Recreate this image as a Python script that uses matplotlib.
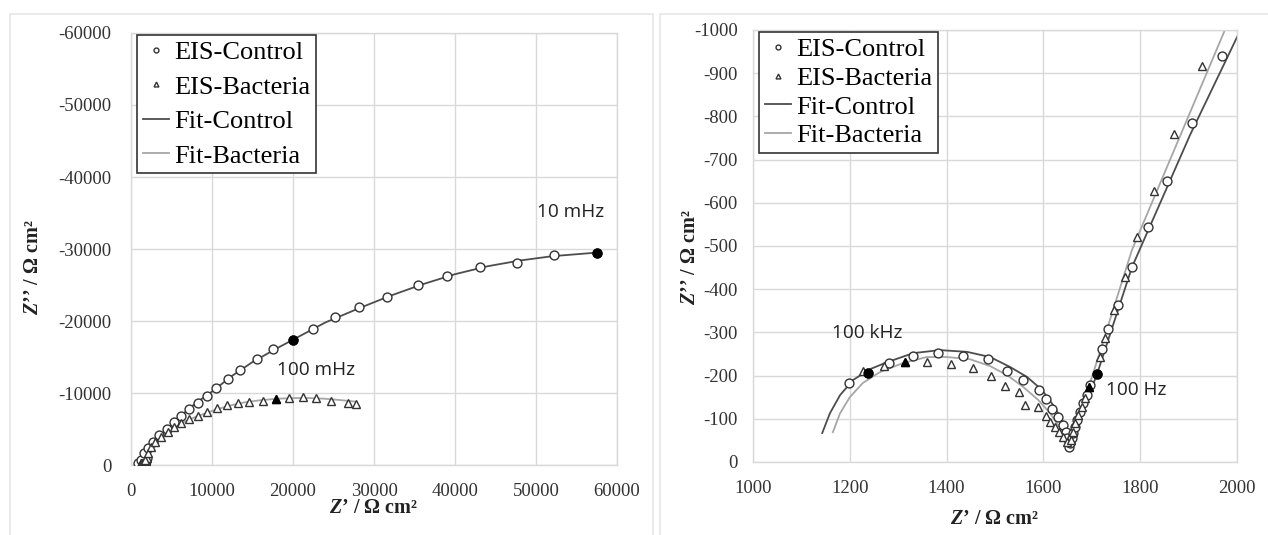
"""Nyquist plots of EIS data (control vs bacteria) with equivalent-circuit fits."""

import matplotlib

matplotlib.use("Agg")
import matplotlib.pyplot as plt
from matplotlib.patches import Rectangle

# ---- full-range spectrum (left panel), Z' and Z'' in ohm cm2 ----
ctrl_lf_x = [4430, 5300, 6160, 7150, 8250, 9360, 10470, 11950, 13430, 15520, 17490, 19960,
             22420, 25130, 28090, 31660, 35480, 39050, 43120, 47680, 52240, 57530]
ctrl_lf_y = [-5000, -5970, -6810, -7780, -8610, -9580, -10700, -11950, -13200, -14720, -16110, -17360,
             -18890, -20560, -21950, -23340, -25000, -26250, -27500, -28060, -29170, -29450]
ctrl_mid_x = [860, 1230, 1600, 2090, 2710, 3450]
ctrl_mid_y = [-280, -700, -1670, -2360, -3190, -4170]

bact_lf_x = [1720, 2090, 2460, 2960, 3700, 4560, 5300, 6160, 7150, 8250, 9360, 10600, 11830,
             13180, 14540, 16260, 17860, 19470, 21190, 22790, 24640, 26730, 27720]
bact_lf_y = [-700, -1670, -2500, -3190, -3890, -4580, -5280, -5830, -6390, -6810, -7360, -7920, -8330,
             -8610, -8750, -8890, -9170, -9310, -9450, -9310, -8890, -8610, -8470]

fit_ctrl_lf_x = [850, 1200, 1600, 2100, 2800, 3600, 4500, 6000, 8000, 10000, 12500, 15000, 18000,
                 21000, 24000, 28000, 32000, 36000, 40000, 44000, 48000, 52000, 57500]
fit_ctrl_lf_y = [0, -700, -1600, -2400, -3300, -4200, -5100, -6700, -8600, -10200, -12400, -14300, -16200,
                 -18000, -19800, -21700, -23500, -25100, -26500, -27600, -28400, -29000, -29500]
fit_bact_lf_x = [1500, 1700, 2000, 2500, 3000, 3800, 4700, 5600, 6600, 7800, 9000, 10500, 12000,
                 14000, 16000, 18000, 20000, 22000, 24000, 26000, 27700]
fit_bact_lf_y = [0, -700, -1500, -2400, -3100, -3900, -4700, -5400, -6000, -6600, -7100, -7700, -8200,
                 -8700, -9000, -9200, -9300, -9300, -9200, -9000, -8800]

# ---- high-frequency zoom (right panel) ----
ctrl_hf_x = [1198, 1238, 1281, 1331, 1382, 1434, 1486, 1525, 1558, 1591, 1605, 1618, 1630, 1641,
             1647, 1649, 1653, 1655, 1659, 1661, 1665, 1669, 1676, 1682, 1690, 1696, 1711, 1721,
             1733, 1754, 1783, 1816, 1855, 1907, 1969]
ctrl_hf_y = [-183, -206, -229, -245, -252, -245, -238, -211, -190, -167, -146, -123, -104, -86,
             -69, -56, -35, -44, -56, -67, -81, -97, -116, -137, -155, -178, -204, -262,
             -308, -363, -451, -544, -651, -785, -940]
bact_hf_x = [1227, 1271, 1314, 1359, 1409, 1455, 1492, 1521, 1550, 1562, 1589, 1605, 1614, 1624,
             1632, 1641, 1649, 1657, 1661, 1665, 1671, 1680, 1686, 1694, 1717, 1727, 1746, 1769,
             1793, 1829, 1870, 1928]
bact_hf_y = [-211, -222, -232, -232, -227, -218, -199, -176, -162, -132, -127, -106, -93, -81,
             -69, -58, -46, -51, -69, -90, -109, -127, -148, -174, -243, -287, -352, -428,
             -521, -627, -759, -917]

fit_ctrl_hf_x = [1143, 1159, 1180, 1207, 1242, 1277, 1331, 1386, 1442, 1490, 1531, 1566, 1597,
                 1620, 1639, 1649, 1653, 1711, 1783, 1903, 2002]
fit_ctrl_hf_y = [-67, -113, -155, -190, -215, -231, -252, -259, -255, -243, -220, -197, -167,
                 -132, -97, -67, -35, -204, -451, -757, -988]
fit_bact_hf_x = [1165, 1180, 1200, 1227, 1262, 1310, 1359, 1401, 1448, 1490, 1525, 1558, 1589,
                 1614, 1634, 1647, 1651, 1694, 1783, 1975]
fit_bact_hf_y = [-69, -113, -150, -183, -208, -229, -243, -243, -238, -222, -201, -174, -144,
                 -113, -79, -51, -35, -174, -491, -1000]

# frequency markers (filled symbols) and their labels
ctrl_mark_lf = ([19960, 57530], [-17360, -29450])
bact_mark_lf = ([17860], [-9170])
ctrl_mark_hf = ([1238, 1711], [-206, -204])
bact_mark_hf = ([1314, 1694], [-232, -174])
labels_lf = [("10 mHz", 54300, -35100), ("100 mHz", 22800, -13200)]
labels_hf = [("100 kHz", 1235, -299), ("100 Hz", 1791, -167)]

left_xticks = [0, 10000, 20000, 30000, 40000, 50000, 60000]
left_yticks = [0, -10000, -20000, -30000, -40000, -50000, -60000]
right_xticks = [1000, 1200, 1400, 1600, 1800, 2000]
right_yticks = list(range(0, -1001, -100))

SERIF = "Liberation Serif"
GRID = "#d9d9d9"
CTRL_FIT = "#4d4d4d"
BACT_FIT = "#a6a6a6"
EDGE = "#333333"

plt.rcParams["axes.unicode_minus"] = False
plt.rcParams["mathtext.fontset"] = "custom"
plt.rcParams["mathtext.it"] = "Liberation Serif:italic:bold"
plt.rcParams["mathtext.rm"] = "Liberation Serif:bold"


def draw_panel(ax, data, fits, marks, labels, xlim, ylim, xticks, yticks, row_gap):
    (cx, cy), (bx, by) = data
    (fcx, fcy), (fbx, fby) = fits
    ax.plot(fcx, fcy, color=CTRL_FIT, lw=1.3, zorder=2, label="Fit-Control")
    ax.plot(fbx, fby, color=BACT_FIT, lw=1.3, zorder=2, label="Fit-Bacteria")
    ax.plot(cx, cy, ls="none", marker="o", ms=6.4, mfc="white", mec=EDGE, mew=1.0, zorder=3,
            label="EIS-Control")
    ax.plot(bx, by, ls="none", marker="^", ms=6.4, mfc="white", mec=EDGE, mew=1.0, zorder=3,
            label="EIS-Bacteria")
    (mcx, mcy), (mbx, mby) = marks
    ax.plot(mcx, mcy, ls="none", marker="o", ms=6.4, color="black", zorder=4)
    ax.plot(mbx, mby, ls="none", marker="^", ms=6.4, color="black", zorder=4)
    for text, x, y in labels:
        ax.text(x, y, text, ha="center", va="center", fontsize=13.7, family="Open Sans",
                color="#222222")

    ax.set_xlim(*xlim)
    ax.set_ylim(*ylim)
    ax.set_xticks(xticks)
    ax.set_yticks(yticks)
    ax.grid(True, color=GRID, lw=1.0)
    ax.set_axisbelow(True)
    for spine in ax.spines.values():
        spine.set_color(GRID)
        spine.set_linewidth(1.0)
    ax.tick_params(length=0, labelsize=13.5, colors="#333333")
    for lab in ax.get_xticklabels() + ax.get_yticklabels():
        lab.set_family(SERIF)

    handles, names = ax.get_legend_handles_labels()
    order = [2, 3, 0, 1]
    leg = ax.legend([handles[i] for i in order], [names[i] for i in order],
                    loc="upper left", bbox_to_anchor=(0.012, 0.996), prop={"family": SERIF, "size": 19},
                    frameon=True, fancybox=False, edgecolor="#333333", framealpha=1,
                    handlelength=1.0, handletextpad=0.2, borderpad=0.22, labelspacing=row_gap,
                    markerscale=0.55, borderaxespad=0)
    leg.get_frame().set_linewidth(1.2)


def main() -> None:
    fig = plt.figure(figsize=(12.68, 5.35), dpi=100)

    # light panel frames
    fig.add_artist(Rectangle((10 / 1268, -0.05), 643 / 1268, 1.05 - 14 / 535, transform=fig.transFigure,
                             fill=False, edgecolor="#e6e6e6", lw=1.2))
    fig.add_artist(Rectangle((660 / 1268, -0.05), 620 / 1268, 1.05 - 14 / 535, transform=fig.transFigure,
                             fill=False, edgecolor="#e6e6e6", lw=1.2))

    ax1 = fig.add_axes([131 / 1268, 70 / 535, 486 / 1268, 432 / 535])
    ax2 = fig.add_axes([753 / 1268, 73 / 535, 484 / 1268, 432 / 535])

    draw_panel(
        ax1,
        ((ctrl_hf_x + ctrl_mid_x + ctrl_lf_x, ctrl_hf_y + ctrl_mid_y + ctrl_lf_y),
         (bact_hf_x + bact_lf_x, bact_hf_y + bact_lf_y)),
        ((fit_ctrl_lf_x, fit_ctrl_lf_y), (fit_bact_lf_x, fit_bact_lf_y)),
        (ctrl_mark_lf, bact_mark_lf),
        labels_lf,
        (0, 60000), (0, -60000), left_xticks, left_yticks, 0.42,
    )
    ax1.tick_params(axis="y", pad=14)
    ax1.tick_params(axis="x", pad=13)

    draw_panel(
        ax2,
        ((ctrl_hf_x, ctrl_hf_y), (bact_hf_x, bact_hf_y)),
        ((fit_ctrl_hf_x, fit_ctrl_hf_y), (fit_bact_hf_x, fit_bact_hf_y)),
        (ctrl_mark_hf, bact_mark_hf),
        labels_hf,
        (1000, 2000), (0, -1000), right_xticks, right_yticks, 0.2,
    )
    ax2.tick_params(axis="y", pad=11)
    ax2.tick_params(axis="x", pad=13)

    label_kw = dict(fontsize=14.5, family=SERIF, fontweight="bold", color="#222222")
    ax1.set_xlabel(r"$\mathit{Z}$’ / Ω cm²", **label_kw)
    ax1.set_ylabel(r"$\mathit{Z}$’’ / Ω cm²", **label_kw)
    ax2.set_xlabel(r"$\mathit{Z}$’ / Ω cm²", **label_kw)
    ax2.set_ylabel(r"$\mathit{Z}$’’ / Ω cm²", **label_kw)
    ax1.xaxis.set_label_coords(0.5, -0.076)
    ax1.yaxis.set_label_coords(-0.181, 0.458)
    ax2.xaxis.set_label_coords(0.5, -0.109)
    ax2.yaxis.set_label_coords(-0.110, 0.475)

    fig.savefig("out.png", dpi=100, facecolor="white")
    plt.close(fig)


if __name__ == "__main__":
    main()
